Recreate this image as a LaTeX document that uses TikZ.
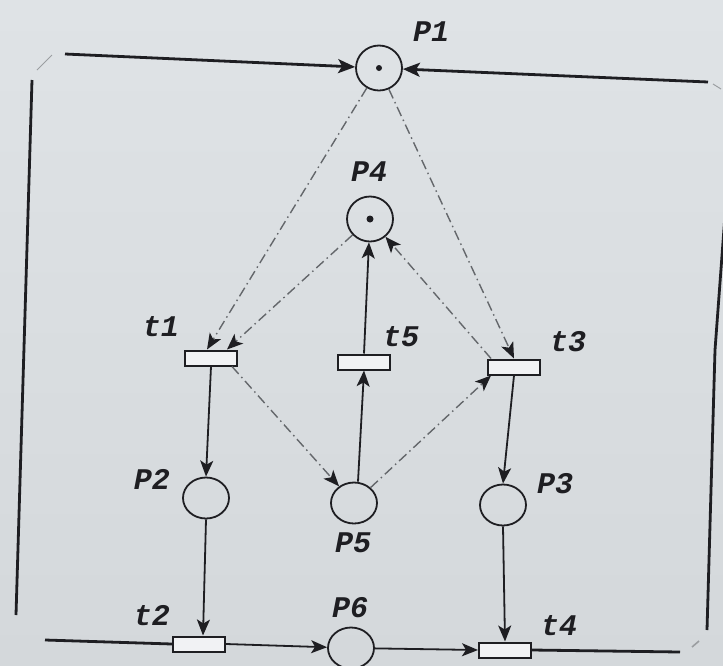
\documentclass[tikz,border=0pt]{standalone}
\usepackage{fontspec}
\setmonofont{Liberation Mono}
\usetikzlibrary{arrows.meta,shapes.geometric,calc}
\definecolor{paper}{RGB}{223,227,230}
\definecolor{paperlow}{RGB}{212,216,219}
\definecolor{ink}{RGB}{30,30,34}
\definecolor{dashink}{RGB}{100,103,107}
\tikzset{
  place/.style={ellipse,draw=ink,line width=1.8pt,minimum width=46pt,minimum height=41pt,inner sep=0pt},
  trans/.style={rectangle,draw=ink,fill=white!55!paper,line width=2pt,minimum width=52pt,minimum height=15pt,inner sep=0pt},
  lbl/.style={font=\ttfamily\bfseries\itshape\fontsize{30}{30}\selectfont,text=ink,inner sep=0pt},
  arc/.style={draw=ink,line width=1.8pt,-{Stealth[length=16pt,width=13pt,inset=4pt]}},
  darc/.style={draw=dashink,line width=1.4pt,dash pattern=on 10pt off 4pt on 1.5pt off 4pt,
               -{Stealth[length=16pt,width=13pt,inset=4pt,color=ink]}},
  rim/.style={draw=ink,line width=2.8pt},
  rimarc/.style={rim,-{Stealth[length=17pt,width=14pt,inset=4pt]}},
  faint/.style={draw=ink!35!paper,line width=1pt},
  token/.style={fill=ink},
}
\begin{document}
\begin{tikzpicture}[x=1pt,y=-1pt]
  % paper
  \shade[top color=paper,bottom color=paperlow] (0,0) rectangle (723,665);
  \useasboundingbox (0,0) rectangle (723,665);

  % places
  \node[place,minimum height=45pt] (P1) at (379,68) {};
  \node[place,minimum height=45pt] (P4) at (370,219) {};
  \node[place] (P2) at (206,498) {};
  \node[place] (P5) at (354,503) {};
  \node[place] (P3) at (503,505) {};
  \node[place] (P6) at (351,648) {};
  \fill[token] (P1.center) circle (3);
  \fill[token] (P4.center) circle (3.5);

  % transitions
  \node[trans] (t1) at (211,358) {};
  \node[trans] (t5) at (364,362) {};
  \node[trans] (t3) at (514,367) {};
  \node[trans] (t2) at (199,644) {};
  \node[trans] (t4) at (505,650) {};

  % labels
  \node[lbl] (lP1) at (431,32) {P1};
  \node[lbl] (lP4) at (369,172) {P4};
  \node[lbl] (lt1) at (161,327) {t1};
  \node[lbl] (lt5) at (401,337) {t5};
  \node[lbl] (lt3) at (568,342) {t3};
  \node[lbl] (lP2) at (152,479) {P2};
  \node[lbl] (lP3) at (555,484) {P3};
  \node[lbl] (lP5) at (353,543) {P5};
  \node[lbl] (lP6) at (350,608) {P6};
  \node[lbl] (lt2) at (152,616) {t2};
  \node[lbl] (lt4) at (559,626) {t4};

  % free ends of the outer return loop
  \coordinate (tl) at (65,54);
  \coordinate (tlCorner) at (52,55);
  \coordinate (tlBend) at (37,70);
  \coordinate (lvTop) at (32,80);
  \coordinate (lvBot) at (16,615);
  \coordinate (blEnd) at (45,640);
  \coordinate (tr) at (708,82);
  \coordinate (trTick) at (713,84);
  \coordinate (trCorner) at (721,89);
  \coordinate (rvTop) at (725,215);
  \coordinate (rvMid) at (715,350);
  \coordinate (rvBot) at (707,630);
  \coordinate (brTick) at (699,641);
  \coordinate (brTickEnd) at (692,647);
  \coordinate (brEnd) at (680,652);

  % outer loop back into P1
  \draw[rimarc] (tl) -- (P1);
  \draw[rimarc] (tr) -- (P1);
  \draw[faint] (tlCorner) -- (tlBend);
  \draw[rim] (lvTop) -- (lvBot);
  \draw[rim] (blEnd) -- (t2.west);
  \draw[rim] (t4.east) -- (brEnd);
  \draw[faint,line width=1.6pt] (brTick) -- (brTickEnd);
  \draw[rim] (rvBot) -- (rvMid) -- (rvTop);
  \draw[faint] (trTick) -- (trCorner);

  % dashed arcs
  \draw[darc] (P1) -- ($(t1.north)+(-4,0)$);
  \draw[darc] (P4) -- ($(t1.north)+(16,0)$);
  \draw[darc] (P1) -- (t3.north);
  \draw[darc] ($(t3.north west)+(4,0)$) -- (P4);
  \draw[darc] ($(t1.south east)+(-6,0)$) -- (P5);
  \draw[darc] (P5) -- ($(t3.south west)+(4,0)$);

  % solid arcs
  \draw[arc] ($(P5.north)+(4,0)$) -- (t5.south);
  \draw[arc] (t5.north) -- (P4);
  \draw[arc] (t1.south) -- (P2.north);
  \draw[arc] (P2.south) -- ($(t2.north)+(4,0)$);
  \draw[arc] (t3.south) -- (P3.north);
  \draw[arc] (P3.south) -- (t4.north);
  \draw[arc] (t2.east) -- (P6);
  \draw[arc] (P6) -- (t4.west);
\end{tikzpicture}
\end{document}
